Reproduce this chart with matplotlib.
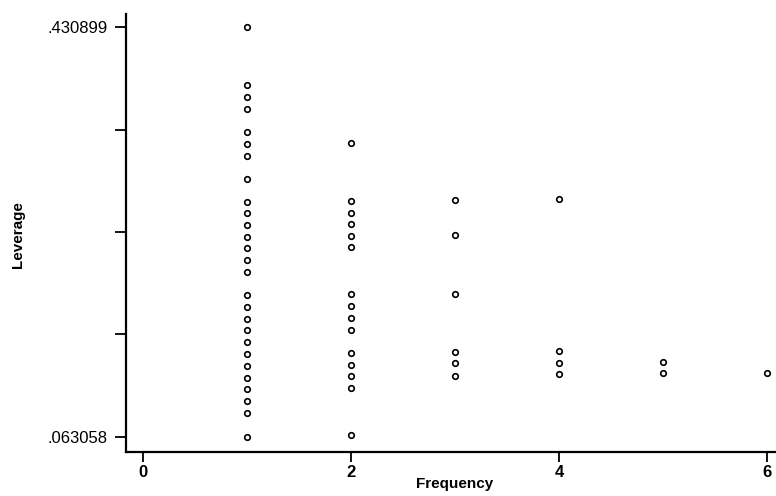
import matplotlib
matplotlib.use("Agg")
import matplotlib.pyplot as plt

# Leverage values grouped by frequency
freq1 = [0.430899, 0.3792, 0.3684, 0.3576, 0.3369, 0.3261, 0.3153, 0.2947,
         0.2740, 0.2641, 0.2533, 0.2425, 0.2326, 0.2218, 0.2110, 0.1903,
         0.1795, 0.1687, 0.1588, 0.1481, 0.1373, 0.1265, 0.1157, 0.1058,
         0.0950, 0.0842, 0.063058]
freq2 = [0.3270, 0.2749, 0.2641, 0.2542, 0.2434, 0.2335, 0.1912, 0.1804,
         0.1696, 0.1588, 0.1382, 0.1274, 0.1175, 0.1067, 0.0644]
freq3 = [0.2758, 0.2443, 0.1912, 0.1391, 0.1292, 0.1175]
freq4 = [0.2767, 0.1400, 0.1292, 0.1193]
freq5 = [0.1301, 0.1202]
freq6 = [0.1202]

groups = {1: freq1, 2: freq2, 3: freq3, 4: freq4, 5: freq5, 6: freq6}

x_ticks = [0, 2, 4, 6]
y_min_label = 0.063058
y_max_label = 0.430899

plt.rcParams['font.family'] = ['Liberation Sans', 'DejaVu Sans']

fig = plt.figure(figsize=(7.76, 4.96), dpi=100)
ax = fig.add_axes([126 / 776, 44 / 496, 650 / 776, 438 / 496])

for f, vals in groups.items():
    ax.scatter([f] * len(vals), vals, s=16, facecolors='white',
               edgecolors='black', linewidths=1.2, zorder=3)

ax.set_xlim(-0.163, 6.087)
ax.set_ylim(0.04912, 0.44304)

step = (y_max_label - y_min_label) / 4
yt = [y_min_label + i * step for i in range(5)]
ax.set_yticks(yt)
ax.set_yticklabels([".063058", "", "", "", ".430899"])
ax.set_xticks(x_ticks)
ax.set_xticklabels([str(t) for t in x_ticks])

for side in ("top", "right"):
    ax.spines[side].set_visible(False)
for side in ("left", "bottom"):
    ax.spines[side].set_linewidth(1.6)

ax.tick_params(axis='y', length=8, width=1.3, pad=5, labelsize=12)
ax.tick_params(axis='x', length=7.5, width=1.3, pad=2, labelsize=12)
for lbl in ax.get_xticklabels():
    lbl.set_fontweight('bold')

ax.set_ylabel("Leverage", fontsize=11, fontweight='bold')
ax.set_xlabel("Frequency", fontsize=11, fontweight='bold')
ax.yaxis.set_label_coords(-0.1554, 0.4954)
ax.xaxis.set_label_coords(0.5062, -0.057)

fig.savefig("out.png", dpi=100, facecolor='white')
